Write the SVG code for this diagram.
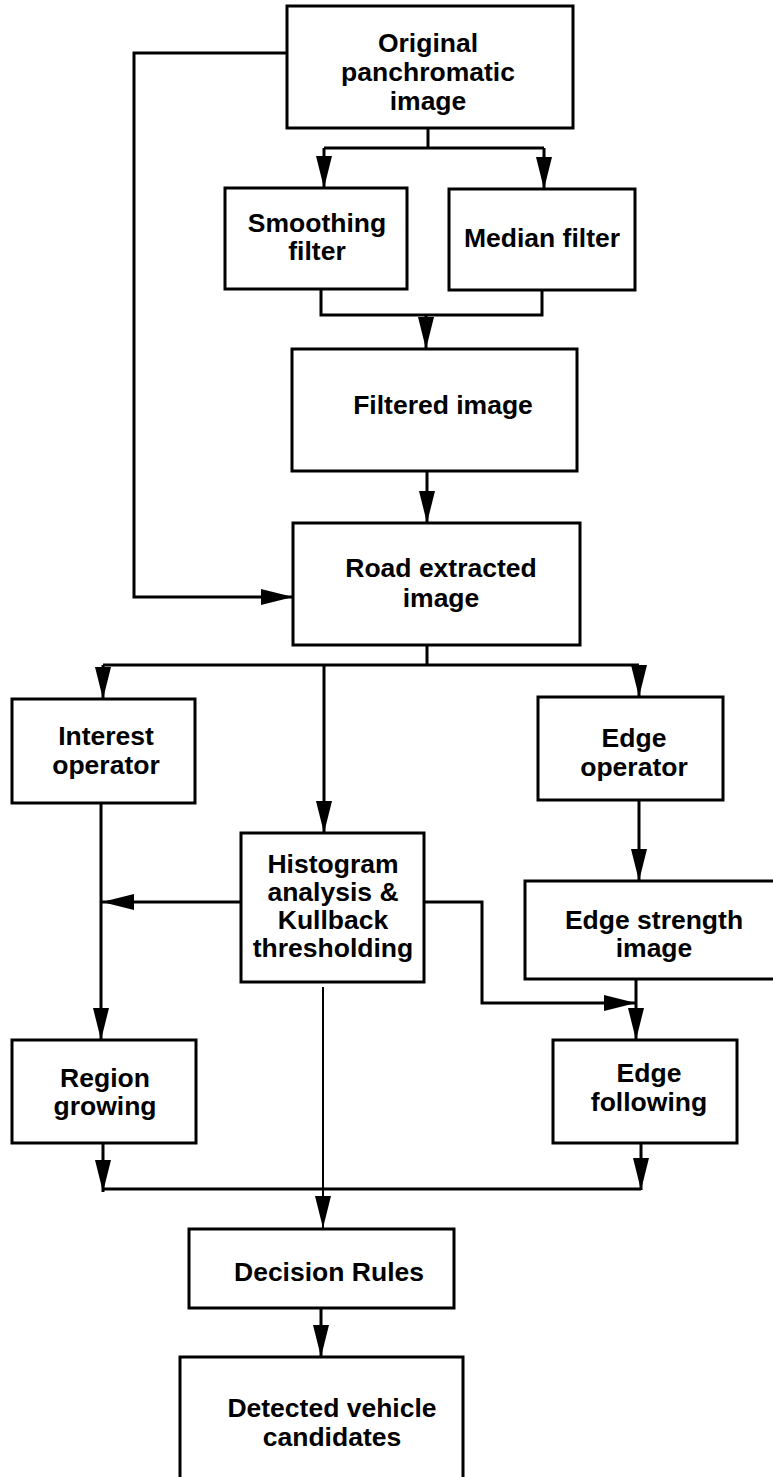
<svg xmlns="http://www.w3.org/2000/svg" width="773" height="1477" viewBox="0 0 773 1477">
<style>
.box{fill:#fff;stroke:#000;stroke-width:3}
.t{font-family:"Liberation Sans",Arial,sans-serif;font-weight:bold;font-size:26.5px;text-anchor:middle;fill:#000}
.c{fill:none;stroke:#000;stroke-width:3}
.thin{fill:none;stroke:#000;stroke-width:2}
</style>
<defs>
<marker id="ah" markerUnits="userSpaceOnUse" markerWidth="32" markerHeight="16" refX="32" refY="8" orient="auto" viewBox="0 0 32 16">
<path d="M0,0 L32,8 L0,16 Z" fill="#000"/>
</marker>
</defs>
<rect width="773" height="1477" fill="#fff"/>
<g id="connectors">
<path class="c" d="M287,53 H134 V597 H293" marker-end="url(#ah)"/>
<path class="c" d="M428,128 V148 M324,148 H544"/>
<path class="c" d="M324,148 V188" marker-end="url(#ah)"/>
<path class="c" d="M544,148 V189" marker-end="url(#ah)"/>
<path class="c" d="M321,289 V315 H542 V290"/>
<path class="c" d="M426,315 V349" marker-end="url(#ah)"/>
<path class="c" d="M427,471 V523" marker-end="url(#ah)"/>
<path class="c" d="M427,645 V665 M103,665 H639"/>
<path class="c" d="M103,665 V699" marker-end="url(#ah)"/>
<path class="c" d="M639,665 V697" marker-end="url(#ah)"/>
<path class="c" d="M324,665 V833" marker-end="url(#ah)"/>
<path class="c" d="M639,800 V881" marker-end="url(#ah)"/>
<path class="c" d="M101,803 V1040" marker-end="url(#ah)"/>
<path class="c" d="M241,902 H102" marker-end="url(#ah)"/>
<path class="c" d="M424,902 H482 V1003 H636" marker-end="url(#ah)"/>
<path class="c" d="M636,980 V1040" marker-end="url(#ah)"/>
<path class="thin" d="M323,987 V1228" marker-end="url(#ah)"/>
<path class="c" d="M103,1143 V1192" marker-end="url(#ah)"/>
<path class="c" d="M641,1143 V1190" marker-end="url(#ah)"/>
<path class="c" d="M103,1189 H641"/>
<path class="c" d="M321,1308 V1357" marker-end="url(#ah)"/>
</g>
<g id="original">
<rect class="box" x="287" y="6" width="286" height="122"/>
<text class="t" x="428" y="52">Original</text>
<text class="t" x="428" y="81">panchromatic</text>
<text class="t" x="428" y="110">image</text>
</g>
<g id="smoothing">
<rect class="box" x="225" y="188" width="182" height="101"/>
<text class="t" x="317" y="232">Smoothing</text>
<text class="t" x="317" y="260">filter</text>
</g>
<g id="median">
<rect class="box" x="449" y="189" width="186" height="101"/>
<text class="t" x="542" y="247">Median filter</text>
</g>
<g id="filtered">
<rect class="box" x="292" y="349" width="285" height="122"/>
<text class="t" x="443" y="414">Filtered image</text>
</g>
<g id="road">
<rect class="box" x="293" y="523" width="287" height="122"/>
<text class="t" x="441" y="577">Road extracted</text>
<text class="t" x="441" y="607">image</text>
</g>
<g id="interest">
<rect class="box" x="12" y="699" width="183" height="104"/>
<text class="t" x="106" y="745">Interest</text>
<text class="t" x="106" y="774">operator</text>
</g>
<g id="histogram">
<rect class="box" x="241" y="833" width="183" height="149"/>
<text class="t" x="333" y="873">Histogram</text>
<text class="t" x="333" y="901">analysis &amp;</text>
<text class="t" x="333" y="929">Kullback</text>
<text class="t" x="333" y="957">thresholding</text>
</g>
<g id="edgeop">
<rect class="box" x="538" y="697" width="185" height="103"/>
<text class="t" x="634" y="747">Edge</text>
<text class="t" x="634" y="776">operator</text>
</g>
<g id="edgestrength">
<rect class="box" x="525" y="881" width="270" height="98"/>
<text class="t" x="654" y="929">Edge strength</text>
<text class="t" x="654" y="957">image</text>
</g>
<g id="region">
<rect class="box" x="12" y="1040" width="184" height="103"/>
<text class="t" x="105" y="1087">Region</text>
<text class="t" x="105" y="1115">growing</text>
</g>
<g id="edgefollow">
<rect class="box" x="553" y="1040" width="184" height="103"/>
<text class="t" x="649" y="1082">Edge</text>
<text class="t" x="649" y="1111">following</text>
</g>
<g id="decision">
<rect class="box" x="189" y="1229" width="265" height="79"/>
<text class="t" x="329" y="1281">Decision Rules</text>
</g>
<g id="detected">
<rect class="box" x="180" y="1357" width="283" height="125"/>
<text class="t" x="332" y="1417">Detected vehicle</text>
<text class="t" x="332" y="1446">candidates</text>
</g>
</svg>
